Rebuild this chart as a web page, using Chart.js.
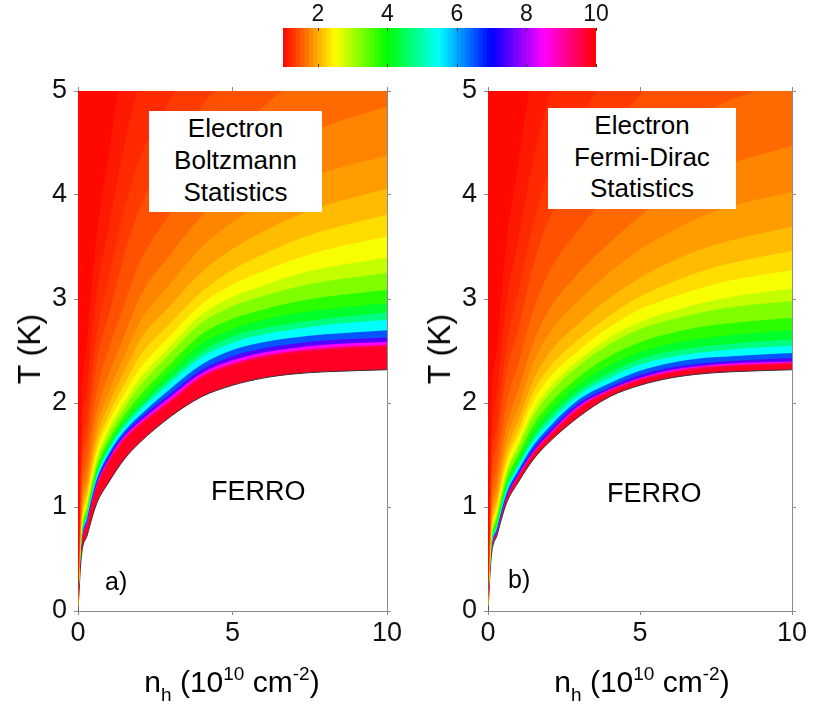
<!DOCTYPE html>
<html>
<head>
<meta charset="utf-8">
<script src="https://cdn.jsdelivr.net/npm/chart.js@4.4.1/dist/chart.umd.min.js"></script>
<style>
  body { margin: 0; background: #fff; width: 815px; height: 708px; position: relative; overflow: hidden;
         font-family: "Liberation Sans", Arial, sans-serif; color: #000; }
  canvas { position: absolute; }
  .txt { position: absolute; white-space: nowrap; line-height: 1; }
  .box { position: absolute; background: #fff; }
  .box div { position: absolute; left: 0; right: 0; text-align: center; font-size: 26px; line-height: 1; }
  .xt { position: absolute; width: 320px; text-align: center; font-size: 30px; line-height: 30px; white-space: nowrap; }
  .xt span { font-size: 19px; line-height: 0; position: relative; }
  .yt { position: absolute; font-size: 32px; line-height: 1; white-space: nowrap; transform: translate(-50%, -50%) rotate(-90deg); }
</style>
</head>
<body>
<canvas id="cbar" width="350" height="72" style="left:270px;top:0px"></canvas>
<canvas id="panelA" width="410" height="648" style="left:0px;top:60px"></canvas>
<canvas id="panelB" width="405" height="648" style="left:410px;top:60px"></canvas>

<div class="box" style="left:149px;top:111px;width:173px;height:101px">
  <div style="top:4px">Electron</div>
  <div style="top:36px">Boltzmann</div>
  <div style="top:68px">Statistics</div>
</div>
<div class="box" style="left:548px;top:108px;width:188px;height:101px">
  <div style="top:4px">Electron</div>
  <div style="top:36px">Fermi-Dirac</div>
  <div style="top:67px">Statistics</div>
</div>
<div class="txt" style="left:211px;top:478px;font-size:27px">FERRO</div>
<div class="txt" style="left:607px;top:480px;font-size:27px">FERRO</div>
<div class="txt" style="left:105px;top:569px;font-size:25px">a)</div>
<div class="txt" style="left:508px;top:567px;font-size:25px">b)</div>

<div class="yt" style="left:29px;top:349px">T (K)</div>
<div class="yt" style="left:439px;top:349px">T (K)</div>
<div class="xt" style="left:72px;top:667px">n<span style="top:9px">h</span> (10<span style="top:-12px">10</span> cm<span style="top:-12px">-2</span>)</div>
<div class="xt" style="left:482px;top:667px">n<span style="top:9px">h</span> (10<span style="top:-12px">10</span> cm<span style="top:-12px">-2</span>)</div>

<script>
// hole density columns (10^10 cm^-2) shared by every contour
const nPts = [0, 0.1, 0.3, 0.6, 1, 1.5, 2, 3, 4, 5, 6, 7, 8, 10];

// contour levels of the plotted quantity, from the ferro boundary outwards
const levels = [10, 9, 8, 7, 6, 5, 4.5, 4, 3.5, 3, 2.7, 2.4, 2.2, 2, 1.85, 1.7, 1.55, 1.4, 1.3, 1.2, 1.1];

// ferro boundary Tc(n)
const tcA = [0, 0.50, 0.73, 1.03, 1.24, 1.46, 1.62, 1.87, 2.06, 2.17, 2.24, 2.28, 2.30, 2.32];
const tcB = [0, 0.50, 0.73, 1.03, 1.24, 1.46, 1.62, 1.87, 2.06, 2.17, 2.24, 2.28, 2.30, 2.32];

// a) Boltzmann: T (K) of each contour level at the nPts columns
const contA = [
  [0, 0.575, 0.84, 1.18, 1.43, 1.64, 1.78, 2.00, 2.235, 2.355, 2.43, 2.48, 2.505, 2.54],
  [0, 0.58, 0.85, 1.20, 1.45, 1.66, 1.80, 2.03, 2.26, 2.38, 2.455, 2.50, 2.53, 2.56],
  [0, 0.59, 0.865, 1.215, 1.465, 1.68, 1.82, 2.06, 2.285, 2.41, 2.485, 2.53, 2.56, 2.59],
  [0, 0.60, 0.88, 1.235, 1.49, 1.70, 1.85, 2.09, 2.32, 2.45, 2.525, 2.57, 2.60, 2.63],
  [0, 0.615, 0.90, 1.26, 1.515, 1.73, 1.88, 2.14, 2.37, 2.51, 2.585, 2.63, 2.66, 2.70],
  [0, 0.63, 0.92, 1.29, 1.55, 1.77, 1.93, 2.20, 2.44, 2.58, 2.66, 2.71, 2.75, 2.80],
  [0, 0.64, 0.935, 1.31, 1.575, 1.80, 1.96, 2.24, 2.49, 2.64, 2.72, 2.77, 2.81, 2.87],
  [0, 0.65, 0.95, 1.335, 1.60, 1.83, 2.00, 2.30, 2.57, 2.71, 2.80, 2.86, 2.90, 2.96],
  [0, 0.665, 0.975, 1.37, 1.64, 1.88, 2.07, 2.38, 2.66, 2.81, 2.90, 2.97, 3.02, 3.09],
  [0, 0.69, 1.01, 1.42, 1.70, 1.95, 2.16, 2.48, 2.77, 2.93, 3.03, 3.11, 3.17, 3.25],
  [0, 0.71, 1.04, 1.46, 1.75, 2.01, 2.23, 2.55, 2.85, 3.02, 3.13, 3.23, 3.30, 3.40],
  [0, 0.74, 1.08, 1.52, 1.82, 2.09, 2.33, 2.65, 2.95, 3.14, 3.27, 3.38, 3.47, 3.60],
  [0, 0.765, 1.12, 1.58, 1.89, 2.18, 2.45, 2.77, 3.07, 3.28, 3.43, 3.56, 3.66, 3.81],
  [0, 0.81, 1.18, 1.66, 1.99, 2.30, 2.60, 2.94, 3.26, 3.48, 3.65, 3.79, 3.90, 4.06],
  [0, 0.86, 1.25, 1.76, 2.11, 2.45, 2.78, 3.15, 3.50, 3.74, 3.93, 4.10, 4.22, 4.38],
  [0, 0.93, 1.35, 1.90, 2.28, 2.65, 3.02, 3.43, 3.80, 4.08, 4.32, 4.52, 4.66, 4.85],
  [0, 1.03, 1.49, 2.10, 2.52, 2.95, 3.35, 3.83, 4.25, 4.55, 4.85, 5.08, 5.24, 5.45],
  [0, 1.17, 1.69, 2.38, 2.85, 3.42, 3.88, 4.40, 4.85, 5.20, 5.55, 5.80, 5.95, 6.15],
  [0, 1.31, 1.88, 2.65, 3.20, 3.85, 4.35, 4.92, 5.40, 5.80, 6.20, 6.50, 6.70, 6.90],
  [0, 1.50, 2.17, 3.05, 3.70, 4.48, 5.08, 5.73, 6.30, 6.80, 7.20, 7.50, 7.70, 8.00],
  [0, 1.80, 2.60, 3.60, 4.40, 5.40, 6.20, 7.00, 7.60, 8.10, 8.50, 8.80, 9.10, 9.40]
];

// b) Fermi-Dirac: same layout, bands pressed closer to the boundary
const contB = [
  [0, 0.52, 0.755, 1.065, 1.285, 1.51, 1.67, 1.94, 2.10, 2.215, 2.285, 2.325, 2.35, 2.37],
  [0, 0.525, 0.765, 1.08, 1.30, 1.525, 1.69, 1.96, 2.12, 2.23, 2.30, 2.345, 2.365, 2.39],
  [0, 0.53, 0.77, 1.085, 1.31, 1.535, 1.70, 1.975, 2.13, 2.24, 2.315, 2.355, 2.38, 2.40],
  [0, 0.535, 0.785, 1.10, 1.33, 1.56, 1.725, 2.00, 2.15, 2.27, 2.34, 2.38, 2.405, 2.43],
  [0, 0.55, 0.80, 1.125, 1.355, 1.595, 1.765, 2.035, 2.19, 2.31, 2.385, 2.43, 2.45, 2.48],
  [0, 0.56, 0.82, 1.155, 1.39, 1.64, 1.81, 2.08, 2.24, 2.37, 2.44, 2.485, 2.515, 2.55],
  [0, 0.575, 0.84, 1.18, 1.42, 1.675, 1.855, 2.12, 2.29, 2.42, 2.495, 2.54, 2.57, 2.61],
  [0, 0.59, 0.86, 1.21, 1.45, 1.725, 1.91, 2.18, 2.36, 2.49, 2.57, 2.62, 2.655, 2.70],
  [0, 0.61, 0.89, 1.25, 1.50, 1.79, 1.985, 2.255, 2.45, 2.585, 2.67, 2.73, 2.77, 2.82],
  [0, 0.635, 0.93, 1.31, 1.57, 1.88, 2.08, 2.36, 2.565, 2.71, 2.80, 2.87, 2.92, 2.98],
  [0, 0.65, 0.955, 1.34, 1.61, 1.935, 2.14, 2.415, 2.63, 2.78, 2.88, 2.96, 3.02, 3.10],
  [0, 0.68, 0.99, 1.40, 1.675, 2.02, 2.235, 2.51, 2.73, 2.90, 3.01, 3.105, 3.18, 3.28],
  [0, 0.705, 1.03, 1.455, 1.74, 2.11, 2.335, 2.615, 2.84, 3.025, 3.155, 3.265, 3.345, 3.465],
  [0, 0.745, 1.085, 1.53, 1.835, 2.225, 2.475, 2.77, 3.01, 3.205, 3.355, 3.475, 3.565, 3.695],
  [0, 0.80, 1.16, 1.635, 1.96, 2.39, 2.665, 2.99, 3.255, 3.475, 3.645, 3.79, 3.895, 4.03],
  [0, 0.865, 1.255, 1.77, 2.125, 2.59, 2.895, 3.255, 3.54, 3.795, 4.01, 4.185, 4.305, 4.47],
  [0, 0.97, 1.405, 1.98, 2.38, 2.90, 3.25, 3.675, 4.01, 4.29, 4.565, 4.77, 4.915, 5.105],
  [0, 1.115, 1.615, 2.27, 2.72, 3.335, 3.765, 4.245, 4.625, 4.96, 5.285, 5.52, 5.66, 5.845],
  [0, 1.255, 1.80, 2.54, 3.065, 3.73, 4.205, 4.735, 5.165, 5.545, 5.925, 6.205, 6.39, 6.58],
  [0, 1.45, 2.10, 2.95, 3.575, 4.35, 4.925, 5.555, 6.09, 6.57, 6.95, 7.24, 7.43, 7.715],
  [0, 1.76, 2.545, 3.52, 4.305, 5.28, 6.06, 6.845, 7.43, 7.92, 8.31, 8.60, 8.90, 9.19]
];

const xTicks = [0, 5, 10];
const yTicks = [0, 1, 2, 3, 4, 5];
const cbarTicks = [2, 4, 6, 8, 10];
const cbarMin = 1, cbarMax = 10;

const FONT = '"Liberation Sans", Arial, sans-serif';
const AXIS_GREY = '#8a8a8a';

// hsv-like colour scale: red at 1, round the hue circle, back to red at 10
function hueColor(v) {
  const h = Math.max(0, Math.min(360, (v - cbarMin) * 40));
  return 'hsl(' + h.toFixed(1) + ', 100%, 50%)';
}
const overColor = 'hsl(352, 100%, 50%)';  // band hugging the boundary (>= 10)

function toPts(arr) {
  return nPts.map((n, i) => ({ x: n, y: arr[i] }));
}

function fixedTicks(list) {
  return s => { s.ticks = list.map(v => ({ value: v })); };
}

function makePanel(id, tc, contours) {
  const layers = [];
  // boundary first (bottom layer); white below it is just the page
  layers.push({ data: toPts(tc), fill: 'end', backgroundColor: overColor,
                borderColor: '#333', borderWidth: 1 });
  levels.forEach((lv, k) => {
    const next = k + 1 < levels.length ? levels[k + 1] : cbarMin;
    layers.push({ data: toPts(contours[k]), fill: 'end',
                  backgroundColor: hueColor((lv + next) / 2),
                  borderColor: 'rgba(0,0,0,0)', borderWidth: 0 });
  });
  // chart.js paints the last dataset first
  layers.reverse();

  const tickFont = { size: 27, family: FONT };
  const grid = { drawOnChartArea: false, tickLength: 4, color: AXIS_GREY };
  const border = { color: AXIS_GREY, width: 1 };

  new Chart(document.getElementById(id), {
    type: 'line',
    data: { datasets: layers },
    options: {
      responsive: false,
      animation: false,
      events: [],
      layout: { padding: 0 },
      elements: { point: { radius: 0 }, line: { cubicInterpolationMode: 'monotone' } },
      plugins: { legend: { display: false }, tooltip: { enabled: false } },
      scales: {
        x: { type: 'linear', position: 'bottom', min: 0, max: 10,
             afterBuildTicks: fixedTicks(xTicks),
             ticks: { font: tickFont, color: '#111', padding: 2, maxRotation: 0 },
             grid: grid, border: border,
             afterFit: s => { s.height = 97; } },
        xTop: { type: 'linear', position: 'top', min: 0, max: 10,
                afterBuildTicks: fixedTicks(xTicks),
                ticks: { display: false },
                grid: grid, border: border,
                afterFit: s => { s.height = 31; } },
        y: { type: 'linear', position: 'left', min: 0, max: 5,
             afterBuildTicks: fixedTicks(yTicks),
             ticks: { font: tickFont, color: '#111', padding: 7 },
             grid: grid, border: border,
             afterFit: s => { s.width = 78; } },
        yRight: { type: 'linear', position: 'right', min: 0, max: 5,
                  afterBuildTicks: fixedTicks(yTicks),
                  ticks: { display: false },
                  grid: grid, border: border,
                  afterFit: s => { s.width = 23; } }
      }
    }
  });
}

makePanel('panelA', tcA, contA);
makePanel('panelB', tcB, contB);

// --- colour bar ---
const cbarStep = 0.125;
const cbarSegs = [];
for (let v = cbarMin; v < cbarMax - 1e-9; v += cbarStep) cbarSegs.push(v + cbarStep / 2);

const innerTicks = {
  id: 'innerTicks',
  afterDraw(chart) {
    const s = chart.scales.xTop, a = chart.chartArea, ctx = chart.ctx;
    ctx.save();
    ctx.strokeStyle = '#333';
    ctx.lineWidth = 1;
    cbarTicks.forEach(v => {
      const x = Math.round(s.getPixelForValue(v)) + 0.5;
      ctx.beginPath();
      ctx.moveTo(x, a.top); ctx.lineTo(x, a.top + 3);
      ctx.moveTo(x, a.bottom - 3); ctx.lineTo(x, a.bottom);
      ctx.stroke();
    });
    ctx.restore();
  }
};

new Chart(document.getElementById('cbar'), {
  type: 'bar',
  data: {
    labels: cbarSegs.map(v => v.toFixed(3)),
    datasets: [{
      data: cbarSegs.map(() => 1),
      backgroundColor: cbarSegs.map(hueColor),
      borderWidth: 0,
      barPercentage: 1,
      categoryPercentage: 1
    }]
  },
  options: {
    responsive: false,
    animation: false,
    events: [],
    layout: { padding: { left: 13, right: 24, bottom: 5, top: 0 } },
    plugins: { legend: { display: false }, tooltip: { enabled: false } },
    scales: {
      x: { display: false },
      y: { display: false, min: 0, max: 1 },
      xTop: { type: 'linear', position: 'top', min: cbarMin, max: cbarMax, offset: false,
              afterBuildTicks: fixedTicks(cbarTicks),
              ticks: { font: { size: 23, family: FONT }, color: '#111', padding: 0, maxRotation: 0 },
              grid: { display: false, drawTicks: false, offset: false },
              border: { display: false },
              afterFit: s => { s.height = 28; } }
    }
  },
  plugins: [innerTicks]
});
</script>
</body>
</html>
